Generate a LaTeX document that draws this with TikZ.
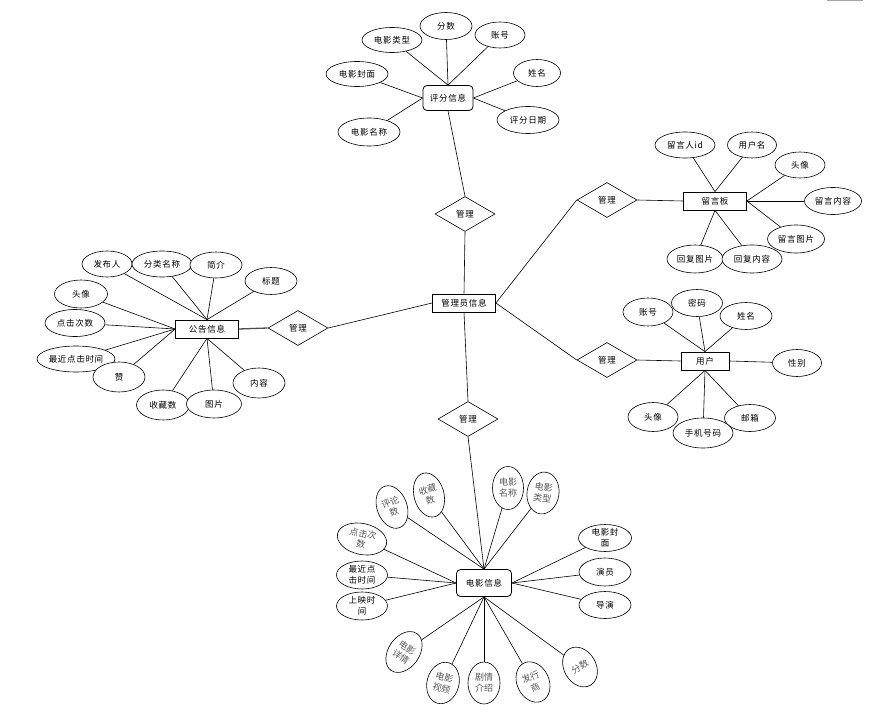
\documentclass[tikz,border=0pt]{standalone}
\usepackage{fontspec}
\newfontfamily\cjk[LetterSpace=8]{Noto Sans CJK SC}
\newfontfamily\cjkb{Noto Sans CJK SC}
\usetikzlibrary{shapes.geometric}
\begin{document}
\begin{tikzpicture}[x=1pt,y=-1pt, line width=0.6pt,
  every node/.style={font=\cjk\fontsize{8.5}{10.5}\selectfont, inner sep=0pt, align=center},
  ent/.style={draw, rectangle, fill=white, minimum width=63, minimum height=18, line width=0.8pt},
  rent/.style={draw, rectangle, rounded corners=4pt, fill=white, minimum width=50, minimum height=25, line width=0.8pt},
  attr/.style={draw, ellipse, fill=white, minimum width=52, minimum height=27},
  sattr/.style={draw, ellipse, fill=white, minimum width=31, minimum height=44, text=black!65, font=\cjkb\fontsize{9}{11}\selectfont},
  rel/.style={draw, diamond, fill=white, minimum width=60, minimum height=35},
  conn/.style={draw, line width=0.6pt}
]
\useasboundingbox (0,0) rectangle (872,714);
\draw[black!35, line width=1.2pt] (827,0.6) -- (863,0.6);

% top cluster
\node[rent] (pf) at (448,98) {评分信息};
\node[attr, minimum width=60, minimum height=25] (t1) at (392,40) {电影类型};
\node[attr, minimum width=52, minimum height=27] (t2) at (446,26) {分数};
\node[attr, minimum width=50, minimum height=26] (t3) at (500,35) {账号};
\node[attr, minimum width=47, minimum height=27] (t4) at (537,73) {姓名};
\node[attr, minimum width=62, minimum height=27] (t5) at (528,120) {评分日期};
\node[attr, minimum width=62, minimum height=25] (t6) at (357,74) {电影封面};
\node[attr, minimum width=62, minimum height=28] (t7) at (369,132) {电影名称};
\foreach \a in {t1,t2,t3} \draw[conn] (\a) -- (pf.north);
\foreach \a in {t4,t5} \draw[conn] (\a) -- (pf.east);
\foreach \a in {t6,t7} \draw[conn] (\a) -- (pf.west);

% center
\node[ent] (admin) at (464,303) {管理员信息};
\node[rel] (d1) at (465,214) {管理};
\node[rel] (d2) at (298,328) {管理};
\node[rel] (d3) at (468,419) {管理};
\node[rel] (d4) at (607,200) {管理};
\node[rel] (d5) at (607,360) {管理};

% left cluster
\node[ent] (gg) at (207,329) {公告信息};
\node[attr, minimum width=50, minimum height=26] (g1) at (107,264) {发布人};
\node[attr, minimum width=60, minimum height=26] (g2) at (162,264) {分类名称};
\node[attr, minimum width=52, minimum height=26] (g3) at (216,265) {简介};
\node[attr, minimum width=52, minimum height=27] (g4) at (271,281) {标题};
\node[attr, minimum width=53, minimum height=28] (g5) at (81,294) {头像};
\node[attr, minimum width=60, minimum height=27] (g6) at (75,323) {点击次数};
\node[attr, minimum width=78, minimum height=26] (g7) at (76,359) {最近点击时间};
\node[attr, minimum width=52, minimum height=30] (g8) at (119,377) {赞};
\node[attr, minimum width=53, minimum height=30] (g9) at (163,405) {收藏数};
\node[attr, minimum width=55, minimum height=28] (g10) at (214,404) {图片};
\node[attr, minimum width=52, minimum height=30] (g11) at (259,383) {内容};
\foreach \a in {g1,g2,g3,g4} \draw[conn] (\a) -- (gg.north);
\foreach \a in {g5,g6,g7,g8} \draw[conn] (\a) -- (gg.west);
\foreach \a in {g9,g10,g11} \draw[conn] (\a) -- (gg.south);

% message board
\node[ent] (ly) at (715,201) {留言板};
\node[attr, minimum width=60, minimum height=26] (l1) at (685,145) {留言人id};
\node[attr, minimum width=49, minimum height=26] (l2) at (752,145) {用户名};
\node[attr, minimum width=50, minimum height=26] (l3) at (800,165) {头像};
\node[attr, minimum width=57, minimum height=27] (l4) at (833,201) {留言内容};
\node[attr, minimum width=57, minimum height=28] (l5) at (796,239) {留言图片};
\node[attr, minimum width=56, minimum height=28] (l6) at (695,259) {回复图片};
\node[attr, minimum width=60, minimum height=28] (l7) at (752,259) {回复内容};
\foreach \a in {l1,l2} \draw[conn] (\a) -- (ly.north);
\foreach \a in {l3,l4,l5} \draw[conn] (\a) -- (ly.east);
\foreach \a in {l6,l7} \draw[conn] (\a) -- (ly.south);

% user
\node[ent, minimum width=48] (user) at (705,361) {用户};
\node[attr, minimum width=50, minimum height=28] (u1) at (648,312) {账号};
\node[attr, minimum width=51, minimum height=27] (u2) at (697,303) {密码};
\node[attr, minimum width=52, minimum height=27] (u3) at (746,316) {姓名};
\node[attr, minimum width=49, minimum height=27] (u4) at (797,363) {性别};
\node[attr, minimum width=51, minimum height=27] (u5) at (750,418) {邮箱};
\node[attr, minimum width=60, minimum height=30] (u6) at (703,433) {手机号码};
\node[attr, minimum width=50, minimum height=29] (u7) at (653,417) {头像};
\foreach \a in {u1,u2,u3} \draw[conn] (\a) -- (user.north);
\draw[conn] (u4) -- (user.east);
\foreach \a in {u5,u6,u7} \draw[conn] (\a) -- (user.south);

% movie
\node[rent, minimum width=55, minimum height=27] (mv) at (484,583) {电影信息};
\node[sattr, rotate=20, minimum width=30, minimum height=44] (m1) at (392,507) {评论\\数};
\node[sattr, rotate=15, minimum width=30, minimum height=45] (m2) at (429,495) {收藏\\数};
\node[sattr, rotate=-12, minimum width=50, minimum height=31] (m3) at (362,539) {点击次\\数};
\node[attr, minimum width=51, minimum height=28] (m4) at (362,575) {最近点\\击时间};
\node[attr, minimum width=51, minimum height=28] (m5) at (362,606) {上映时\\间};
\node[sattr, minimum width=31, minimum height=43] (m6) at (508,488) {电影\\名称};
\node[sattr, rotate=-8, minimum width=32, minimum height=42] (m7) at (543,493) {电影\\类型};
\node[attr, minimum width=53, minimum height=27] (m8) at (605,538) {电影封\\面};
\node[attr, minimum width=52, minimum height=28] (m9) at (605,572) {演员};
\node[attr, minimum width=52, minimum height=27] (m10) at (605,605) {导演};
\node[sattr, rotate=-35, minimum width=31, minimum height=45] (m11) at (404,652) {电影\\详情};
\node[sattr, rotate=-15, minimum width=32, minimum height=42] (m12) at (443,683) {电影\\视频};
\node[sattr, minimum width=32, minimum height=42] (m13) at (484,683) {剧情\\介绍};
\node[sattr, rotate=25, minimum width=32, minimum height=42] (m14) at (533,682) {发行\\商};
\node[sattr, rotate=30, minimum width=32, minimum height=42] (m15) at (580,667) {分数};
\foreach \a in {m1,m2,m6,m7} \draw[conn] (\a) -- (mv.north);
\foreach \a in {m3,m4,m5} \draw[conn] (\a) -- (mv.west);
\foreach \a in {m8,m9,m10} \draw[conn] (\a) -- (mv.east);
\foreach \a in {m11,m12,m13,m14,m15} \draw[conn] (\a) -- (mv.south);

% relationships
\draw[conn] (admin.north) -- (d1.south);
\draw[conn] (d1.north) -- (pf.south);
\draw[conn] (admin.west) -- (d2.east);
\draw[line width=1.3pt, black!70] (d2.west) -- (gg.east);
\draw[conn] (admin.south) -- (d3.north);
\draw[conn] (d3.south) -- (mv.north);
\draw[conn] (admin.east) -- (d4.west);
\draw[conn] (d4.east) -- (ly.west);
\draw[conn] (admin.east) -- (d5.west);
\draw[conn] (d5.east) -- (user.west);
\end{tikzpicture}
\end{document}
